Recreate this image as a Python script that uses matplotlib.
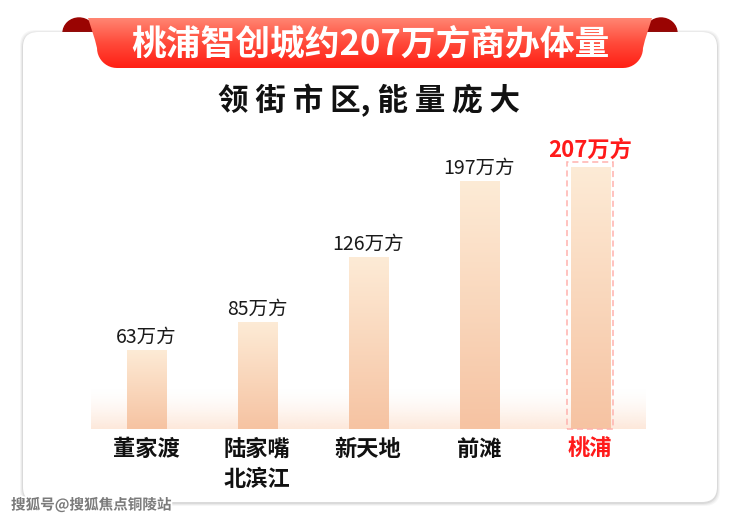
import numpy as np
import matplotlib
matplotlib.use("Agg")
import matplotlib.pyplot as plt
from matplotlib.patches import FancyBboxPatch, Rectangle, Polygon, Ellipse
from matplotlib.colors import LinearSegmentedColormap
import matplotlib.patheffects as pe

plt.rcParams['font.family'] = ['Noto Sans CJK SC', 'DejaVu Sans']

# data
categories = ['董家渡', '陆家嘴\n北滨江', '新天地', '前滩', '桃浦']
values = [63, 85, 126, 197, 207]
# bar lengths as drawn in the picture (the 126 bar is drawn taller)
bar_len = [63, 85, 137, 197, 208]
value_labels = [f'{v}万方' for v in values]
title = '桃浦智创城约207万方商办体量'
subtitle = '领 街 市 区, 能 量 庞 大'
watermark = '搜狐号@搜狐焦点铜陵站'

W, H = 740, 521
fig = plt.figure(figsize=(W / 100, H / 100), dpi=100)
fig.patch.set_facecolor('white')

# background layer in pixel coordinates
bg = fig.add_axes([0, 0, 1, 1], zorder=0)
bg.set_xlim(0, W)
bg.set_ylim(H, 0)
bg.axis('off')

# ribbon ears
for cx in (79, 661):
    bg.add_patch(Ellipse((cx, 33), 32, 30, color='#9a0402', zorder=1))

# card shadow + card
for i, a in enumerate([0.05, 0.07, 0.10]):
    d = 3 - i
    bg.add_patch(FancyBboxPatch((23 - d, 32 - d + 1), 694 + 2 * d, 470 + 2 * d,
                                boxstyle='round,pad=0,rounding_size=16',
                                fc='#555555', ec='none', alpha=a, zorder=2))
bg.add_patch(FancyBboxPatch((23, 32), 694, 470,
                            boxstyle='round,pad=0,rounding_size=15',
                            fc='white', ec='none', zorder=2))

# ribbon body with vertical gradient
t = np.linspace(0, np.pi / 2, 12)
left_curve = [(97 + 20 * (1 - np.cos(a)), 48 + 20 * np.sin(a)) for a in t]
right_curve = [(643 - 20 * (1 - np.cos(a)), 48 + 20 * np.sin(a)) for a in t]
pts = [(88, 18), (652, 18), (645, 40)] + right_curve + left_curve[::-1] + [(95, 40)]
ribbon = Polygon(pts, closed=True, fc='none', ec='none', zorder=3)
bg.add_patch(ribbon)
rib_cmap = LinearSegmentedColormap.from_list('rib', ['#ff8572', '#ff4a3a', '#ff1f14'])
img = bg.imshow(np.linspace(0, 1, 100).reshape(-1, 1), cmap=rib_cmap, aspect='auto',
                extent=[80, 660, 68, 18], zorder=3)
img.set_clip_path(ribbon)
bg.set_xlim(0, W)
bg.set_ylim(H, 0)

bg.text(370, 44, title, color='white', fontsize=25, fontweight='bold',
        ha='center', va='center', zorder=4)
bg.text(369, 101, subtitle, color='#111111', fontsize=22, fontweight='bold',
        ha='center', va='center', zorder=4)
bg.text(11, 505, watermark, color='#7a7a7a', fontsize=10.5, fontweight='bold',
        ha='left', va='center', zorder=4,
        path_effects=[pe.withStroke(linewidth=2.5, foreground='white')])

# bar chart
px_per_unit = 1.26
base_px = 429.5
top_val = 220
ax_left = 91 / W
ax_w = (645.5 - 91) / W
ax_bottom = (H - base_px) / H
ax_h = top_val * px_per_unit / H
ax = fig.add_axes([ax_left, ax_bottom, ax_w, ax_h], zorder=1)
ax.patch.set_alpha(0)
for s in ax.spines.values():
    s.set_visible(False)

x = np.arange(len(categories))
bw = 0.352
bars = ax.bar(x, bar_len, width=bw, color='none', edgecolor='none', zorder=2)

bar_cmap = LinearSegmentedColormap.from_list('bar', ['#f6c3a2', '#fdebd6'])
grad = np.linspace(0, 1, 100).reshape(-1, 1)
for xi, h, b in zip(x, bar_len, bars):
    im = ax.imshow(grad, cmap=bar_cmap, origin='lower', aspect='auto',
                   extent=[xi - bw / 2, xi + bw / 2, 0, h], zorder=2)
    im.set_clip_path(b)

# soft floor glow
glow = np.zeros((50, 2, 4))
glow[..., 0] = 253 / 255
glow[..., 1] = 228 / 255
glow[..., 2] = 212 / 255
glow[..., 3] = np.linspace(0.9, 0, 50)[:, None] ** 1.5
ax.imshow(glow, origin='lower', aspect='auto', extent=[-0.5, 4.5, 0, 32], zorder=1)

# highlight box
ax.add_patch(Rectangle((4 - 0.2075, 0.5), 0.415, 211.5, fill=False, ec='#ffb2ae',
                       lw=1.1, ls=(0, (4, 2.5)), zorder=3))

for i, (h, lab) in enumerate(zip(bar_len, value_labels)):
    if i == len(values) - 1:
        ax.annotate(lab, (i, h), xytext=(0, 12.5), textcoords='offset points',
                    ha='center', va='center', fontsize=16, color='#ff1a1a',
                    fontweight='bold')
    else:
        ax.annotate(lab, (i, h), xytext=(0, 9.3), textcoords='offset points',
                    ha='center', va='center', fontsize=14, color='#1a1a1a')

ax.set_xlim(-0.5, 4.5)
ax.set_ylim(0, top_val)
ax.set_yticks([])
ax.set_xticks(x)
ax.set_xticklabels(categories, fontsize=16, fontweight='bold', color='#111111',
                   linespacing=1.4)
ax.get_xticklabels()[-1].set_color('#ff1a1a')
ax.tick_params(axis='x', length=0, pad=6)

fig.savefig('out.png', dpi=100, facecolor='white')
